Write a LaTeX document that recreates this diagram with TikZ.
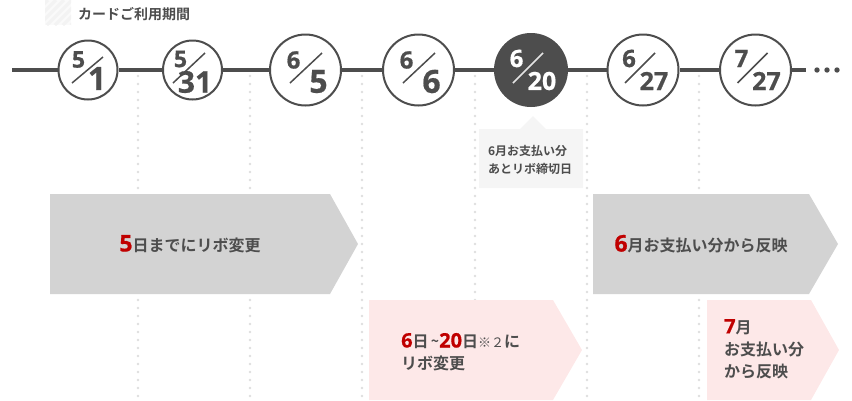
\documentclass[tikz,border=0pt]{standalone}
\usepackage{fontspec}
\IfFontExistsTF{Noto Sans CJK JP Bold}{%
  \setmainfont{Noto Sans CJK JP}[BoldFont={Noto Sans CJK JP Bold}]}{%
  \setmainfont{Noto Sans CJK JP}[BoldFont={Noto Sans CJK JP},BoldFeatures={FakeBold=2}]}
\IfFontExistsTF{Open Sans ExtraBold}{%
  \newfontfamily\numf{Open Sans}[BoldFont={Open Sans ExtraBold}]}{%
  \IfFontExistsTF{Open Sans Bold}{%
    \newfontfamily\numf{Open Sans}[BoldFont={Open Sans Bold},BoldFeatures={FakeBold=0.6}]}{%
    \newfontfamily\numf{Noto Sans}}}
\definecolor{dark}{HTML}{4D4D4D}
\definecolor{txt}{HTML}{4D4D4D}
\definecolor{redd}{HTML}{C00000}
\definecolor{arrgray}{HTML}{D3D3D3}
\definecolor{pinkk}{HTML}{FDE8E8}
\definecolor{callout}{HTML}{F5F5F5}
\definecolor{dotc}{HTML}{DEDEDE}
\definecolor{stripe}{HTML}{F3F3F3}
\newcommand\fs[1]{\fontsize{#1}{#1}\selectfont}
\newcommand\nf[1]{\fontsize{#1}{#1}\numf\bfseries}
\newcommand\rd[2]{{\nf{#1}\color{redd}#2}}
\begin{document}
\begin{tikzpicture}[x=1pt,y=-1pt,
  datecirc/.style={circle,draw=dark,line width=2pt,fill=white,inner sep=0pt},
  darkcirc/.style={circle,draw=dark,line width=2pt,fill=dark,inner sep=0pt},
  digit/.style={inner sep=0pt,text=dark},
  wdigit/.style={inner sep=0pt,text=white},
  slash/.style={draw=dark,line width=1.5pt},
  wslash/.style={draw=white!85!dark,line width=1.5pt},
  tl/.style={draw=dark,line width=4pt},
  dotline/.style={draw=dotc,line width=2.6pt,line cap=round,dash pattern=on 0pt off 8pt},
  arrtext/.style={inner sep=0pt,text=txt,font=\fs{16}\bfseries},
  arrtextL/.style={inner sep=0pt,text=txt,align=left,font=\fontsize{16}{22}\selectfont\bfseries}]
\useasboundingbox (0,0) rectangle (852,400);
% hatched label box
\begin{scope}
\clip (45,0) rectangle (71,25);
\fill[white!98!black] (45,0) rectangle (71,25);
\foreach \i in {-30,-22,...,80}{\draw[stripe,line width=3pt] (45+\i,25) -- (70+\i,0);}
\end{scope}
\node[inner sep=0pt,anchor=west,text=dark,font=\fs{14}\bfseries] (hdr) at (78,14) {カードご利用期間};
% dotted vertical lines
\foreach \x in {138,250,362,475,587,699}{\draw[dotline] (\x,76) -- (\x,400);}
% circles
\node[datecirc,minimum size=59pt] (c1) at (88,70) {};
\node[datecirc,minimum size=59pt] (c2) at (192.5,70) {};
\node[datecirc,minimum size=71pt] (c3) at (305.5,70) {};
\node[datecirc,minimum size=71pt] (c4) at (418.5,70) {};
\node[darkcirc,minimum size=72pt] (c5) at (531,70) {};
\node[datecirc,minimum size=71pt] (c6) at (643,70) {};
\node[datecirc,minimum size=71pt] (c7) at (755.5,70) {};
% timeline connectors
\coordinate (tlstart) at (12,70);
\coordinate (tlend) at (806,70);
\draw[tl] (tlstart) -- (c1) -- (c2) -- (c3) -- (c4) -- (c5) -- (c6) -- (c7) -- (tlend);
\fill[dark] (817,70) circle (2.7) (827,70) circle (2.7) (837,70) circle (2.7);
% circle contents
\node[digit,font=\nf{23}] (c1t) at ([shift={(-9.5,-10.5)}]c1.center) {5};
\node[digit,font=\nf{32}] (c1b) at ([shift={(9,8.5)}]c1.center) {1};
\draw[slash] ([shift={(-16,13)}]c1.center) -- ([shift={(15,-13)}]c1.center);
\node[digit,font=\nf{23}] (c2t) at ([shift={(-12,-11)}]c2.center) {5};
\node[digit,font=\nf{30}] (c2b) at ([shift={(2.5,12)}]c2.center) {31};
\draw[slash] ([shift={(-19.5,13)}]c2.center) -- ([shift={(12.5,-17)}]c2.center);
\node[digit,font=\nf{24}] (c3t) at ([shift={(-12,-10)}]c3.center) {6};
\node[digit,font=\nf{32}] (c3b) at ([shift={(13,11.5)}]c3.center) {5};
\draw[slash] ([shift={(-15.5,13)}]c3.center) -- ([shift={(16.5,-17)}]c3.center);
\node[digit,font=\nf{24}] (c4t) at ([shift={(-12,-10)}]c4.center) {6};
\node[digit,font=\nf{32}] (c4b) at ([shift={(13,11.5)}]c4.center) {6};
\draw[slash] ([shift={(-15.5,13)}]c4.center) -- ([shift={(16.5,-17)}]c4.center);
\node[wdigit,font=\nf{24}] (c5t) at ([shift={(-14.5,-11.5)}]c5.center) {6};
\node[wdigit,font=\nf{25}] (c5b) at ([shift={(11,11)}]c5.center) {20};
\draw[wslash] ([shift={(-18,13)}]c5.center) -- ([shift={(12,-17)}]c5.center);
\node[digit,font=\nf{24}] (c6t) at ([shift={(-14,-11.5)}]c6.center) {6};
\node[digit,font=\nf{25}] (c6b) at ([shift={(11,11)}]c6.center) {27};
\draw[slash] ([shift={(-18,13)}]c6.center) -- ([shift={(12,-17)}]c6.center);
\node[digit,font=\nf{24}] (c7t) at ([shift={(-14,-11.5)}]c7.center) {7};
\node[digit,font=\nf{25}] (c7b) at ([shift={(11,11)}]c7.center) {27};
\draw[slash] ([shift={(-18,13)}]c7.center) -- ([shift={(12,-17)}]c7.center);
% callout
\fill[callout] (479,129) -- (520,129) -- (533,116) -- (546,129) -- (583,129) -- (583,188) -- (479,188) -- cycle;
\node[inner sep=0pt,align=left,text=txt,font=\fontsize{12}{18}\selectfont\bfseries] (note) at (530,160) {6月お支払い分\\あとリボ締切日};
% arrows
\fill[arrgray] (50,194) -- (330,194) -- (358,244) -- (330,294) -- (50,294) -- cycle;
\fill[arrgray] (593,194) -- (809,194) -- (838,244) -- (809,294) -- (593,294) -- cycle;
\fill[pinkk] (369,300) -- (553,300) -- (582,350) -- (553,400) -- (369,400) -- cycle;
\fill[pinkk] (707,300) -- (811,300) -- (839,350) -- (811,400) -- (707,400) -- cycle;
\node[arrtext] (a1) at (190,244) {\rd{23}{5}日までにリボ変更};
\node[arrtext] (a3) at (701,244) {\rd{23}{6}月お支払い分から反映};
\node[arrtextL,anchor=west] (a2) at (401,352) {\rd{20}{6}日\raisebox{1pt}{\fs{14}\bfseries\,\char`\~}\rd{20}{20}日{\fs{13}\mdseries ※２}に\\リボ変更};
\node[arrtextL,anchor=west] (a4) at (724,349) {\rd{20}{7}月\\お支払い分\\から反映};
\end{tikzpicture}
\end{document}
